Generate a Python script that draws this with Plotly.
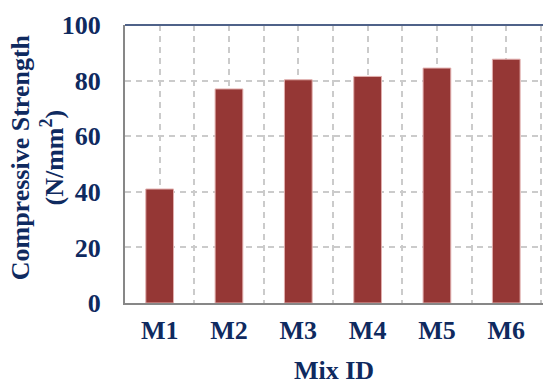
import plotly.graph_objects as go

mix_ids = ["M1", "M2", "M3", "M4", "M5", "M6"]
strength = [41, 77, 80.3, 81.5, 84.5, 87.7]
y_ticks = [0, 20, 40, 60, 80, 100]

navy = "#0F2A5F"
font_family = "Times New Roman, Liberation Serif, Times, serif"
positions = list(range(len(mix_ids)))

fig = go.Figure()
fig.add_trace(go.Bar(
    x=positions, y=strength, width=0.4,
    marker=dict(color="#953735", line=dict(color="#E2AFAE", width=1)),
))

fig.update_layout(
    width=543, height=385,
    margin=dict(l=125, r=0, t=25, b=82, autoexpand=False),
    paper_bgcolor="white", plot_bgcolor="white",
    showlegend=False,
    font=dict(family=font_family, color=navy, size=26),
)
fig.update_xaxes(
    range=[-0.5, 5.53], automargin=False,
    tickmode="array", tickvals=positions, ticktext=["<b>%s</b>" % m for m in mix_ids],
    tickfont=dict(size=26, family=font_family, color=navy),
    showgrid=True, gridcolor="#CBCBCB", gridwidth=2, griddash="6px,5px",
    minor=dict(tick0=-0.5, dtick=1, showgrid=True, gridcolor="#CBCBCB", gridwidth=2, griddash="6px,5px"),
    showline=True, linecolor="#878787", linewidth=2,
    ticks="outside", ticklen=3, tickcolor="rgba(0,0,0,0)", zeroline=False,
    title=dict(text="<b>Mix ID</b>", font=dict(size=26, family=font_family, color=navy), standoff=18),
)
fig.update_yaxes(
    range=[0, 100], automargin=False,
    tickmode="array", tickvals=y_ticks, ticktext=["<b>%d</b>" % v for v in y_ticks],
    tickfont=dict(size=26, family=font_family, color=navy),
    showgrid=True, gridcolor="#CBCBCB", gridwidth=2, griddash="6px,5px",
    showline=True, linecolor="#878787", linewidth=2,
    ticks="outside", ticklen=17, tickcolor="rgba(0,0,0,0)", zeroline=False,
)
fig.add_annotation(
    text="<b>Compressive Strength<br>(N/mm<sup>2</sup>)</b>",
    xref="paper", yref="paper", x=-0.21, y=0.525,
    xanchor="center", yanchor="middle", textangle=-90, showarrow=False,
    font=dict(size=26, family=font_family, color=navy),
)
fig.add_shape(type="line", xref="paper", yref="y domain", x0=0, x1=1, y0=1, y1=1,
              line=dict(color="#4F6289", width=2))

fig.write_html("out.html", config={"displayModeBar": False},
               post_script="document.body.style.margin='0';document.body.style.padding='0';")
